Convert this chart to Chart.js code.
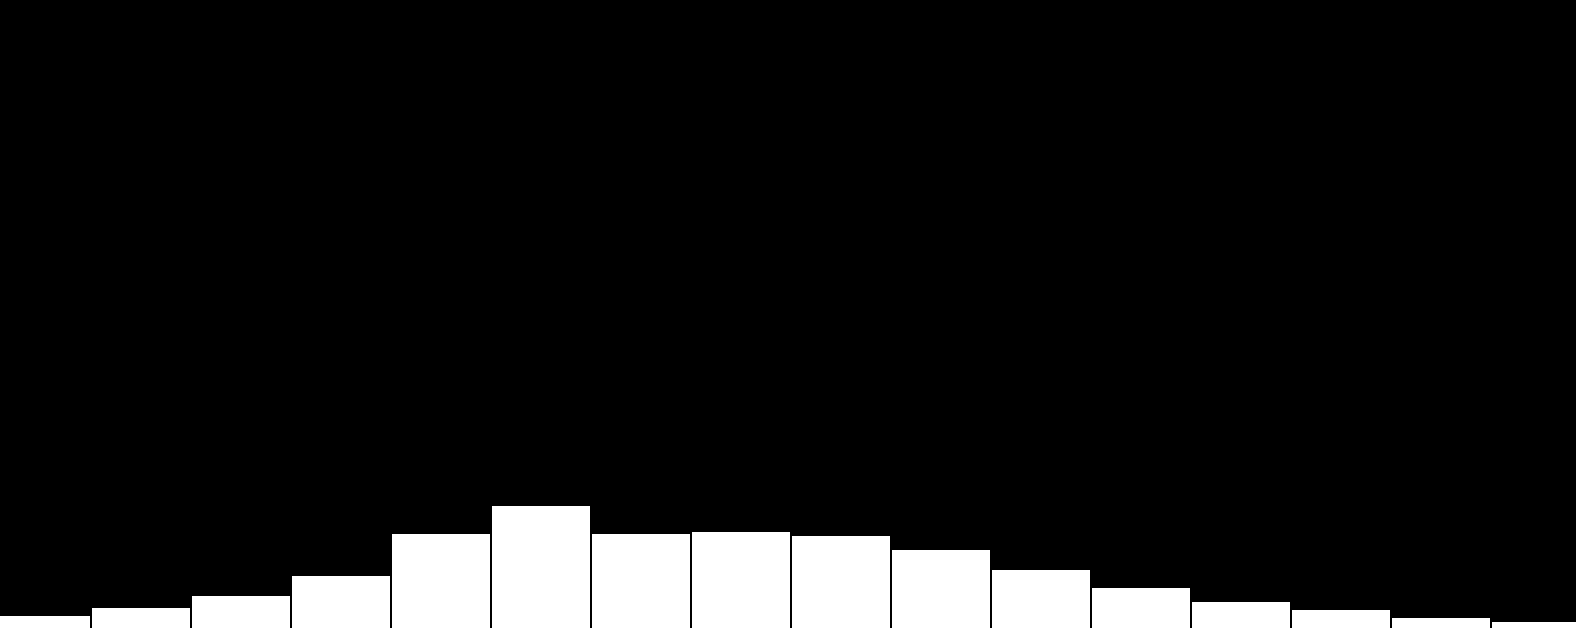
<!DOCTYPE html>
<html>
<head>
<meta charset="utf-8">
<script src="https://cdn.jsdelivr.net/npm/chart.js@4/dist/chart.umd.min.js"></script>
<style>
  html, body { margin: 0; padding: 0; background: #000; overflow: hidden; }
  #wrap { width: 1576px; height: 628px; position: relative; }
</style>
</head>
<body>
<div id="wrap"><canvas id="histChart"></canvas></div>
<script>
// histogram bins (bin index) and their heights, % of full chart height
const binIndex = [0, 1, 2, 3, 4, 5, 6, 7, 8, 9, 10, 11, 12, 13, 14, 15];
const binHeights = [1.91, 3.18, 5.10, 8.28, 14.97, 19.43, 14.97, 15.29, 14.65, 12.42, 9.24, 6.37, 4.14, 2.87, 1.59, 0.96];

const ctx = document.getElementById('histChart').getContext('2d');

new Chart(ctx, {
    type: 'bar',
    data: {
        datasets: [{
            data: binIndex.map((x, i) => ({ x: x, y: binHeights[i] })),
            backgroundColor: '#ffffff',
            borderWidth: 0,
            barPercentage: 0.98,
            categoryPercentage: 1.0
        }]
    },
    options: {
        responsive: true,
        maintainAspectRatio: false,
        animation: false,
        layout: { padding: 0 },
        scales: {
            x: { type: 'linear', display: false, min: -0.41, max: 15.35, offset: false },
            y: { display: false, min: 0, max: 100 }
        },
        plugins: {
            legend: { display: false },
            tooltip: { enabled: false }
        }
    }
});
</script>
</body>
</html>
